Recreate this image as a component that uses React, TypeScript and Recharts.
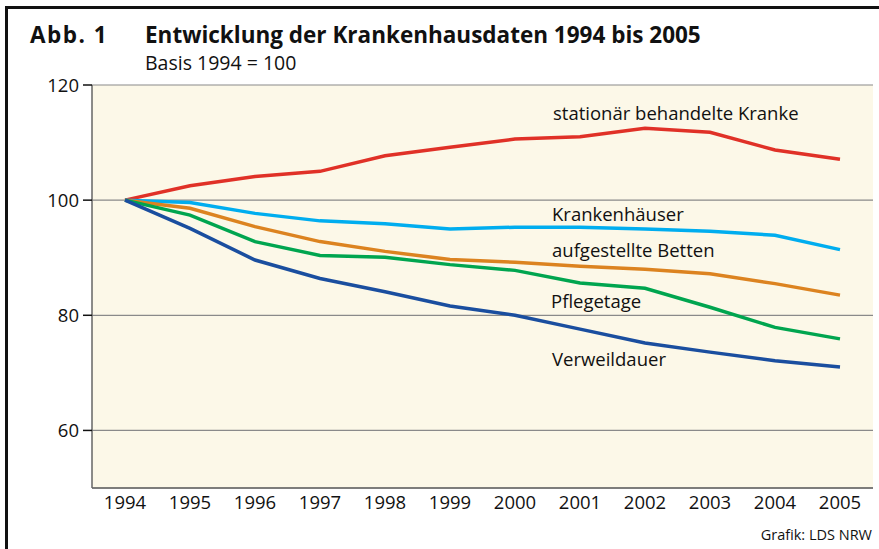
import { LineChart, Line, XAxis, YAxis, CartesianGrid } from 'recharts'

const years = ['1994', '1995', '1996', '1997', '1998', '1999', '2000', '2001', '2002', '2003', '2004', '2005']
const stationaer = [100, 102.5, 104.1, 105.0, 107.7, 109.2, 110.6, 111.0, 112.5, 111.8, 108.7, 107.1]
const krankenhaeuser = [100, 99.6, 97.7, 96.4, 95.9, 95.0, 95.3, 95.3, 95.0, 94.6, 93.9, 91.4]
const betten = [100, 98.6, 95.4, 92.8, 91.1, 89.7, 89.2, 88.5, 88.0, 87.2, 85.5, 83.5]
const pflegetage = [100, 97.4, 92.8, 90.4, 90.1, 88.8, 87.8, 85.6, 84.7, 81.4, 77.9, 75.9]
const verweildauer = [100, 95.1, 89.6, 86.4, 84.1, 81.6, 80.0, 77.6, 75.2, 73.6, 72.1, 71.0]
const yTicks = [60, 80, 100, 120]

const seriesLabels = [
  { text: 'stationär behandelte Kranke', x: 553, y: 113 },
  { text: 'Krankenhäuser', x: 552, y: 214 },
  { text: 'aufgestellte Betten', x: 552, y: 250 },
  { text: 'Pflegetage', x: 551, y: 301 },
  { text: 'Verweildauer', x: 552, y: 359 },
]

const data = years.map((year, i) => ({
  year,
  stationaer: stationaer[i],
  krankenhaeuser: krankenhaeuser[i],
  betten: betten[i],
  pflegetage: pflegetage[i],
  verweildauer: verweildauer[i],
}))

const FONT = '"Open Sans", "Noto Sans", sans-serif'

export default function App() {
  return (
    <div style={{ position: 'fixed', left: 0, top: 0, width: 879, height: 549, background: '#fff', fontFamily: FONT, color: '#111', overflow: 'hidden' }}>
      {/* frame */}
      <div style={{ position: 'absolute', left: 5, top: 6, width: 900, height: 600, borderLeft: '3px solid #111', borderTop: '3px solid #111' }} />
      <div style={{ position: 'absolute', left: 30, top: 23, fontSize: 22.5, fontWeight: 700, lineHeight: '24px', letterSpacing: 1.5 }}>Abb. 1</div>
      <div style={{ position: 'absolute', left: 145, top: 23, fontSize: 22.5, fontWeight: 700, lineHeight: '24px' }}>Entwicklung der Krankenhausdaten 1994 bis 2005</div>
      <div style={{ position: 'absolute', left: 145, top: 52, fontSize: 19.5, lineHeight: '21px' }}>Basis 1994 = 100</div>

      <LineChart width={879} height={549} data={data} margin={{ top: 85, right: 6, left: 32, bottom: 30 }} style={{ position: 'absolute', left: 0, top: 0 }}>
        <CartesianGrid vertical={false} fill="#fcf8e8" stroke="#8a8a8a" strokeWidth={1.2} />
        <XAxis
          dataKey="year"
          height={31}
          padding={{ left: 33, right: 33 }}
          tickLine={false}
          tickSize={0}
          tickMargin={8}
          axisLine={{ stroke: '#666', strokeWidth: 1.5 }}
          tick={{ fill: '#111', fontSize: 18.5, fontFamily: FONT }}
        />
        <YAxis
          width={60}
          domain={[50, 120]}
          ticks={yTicks}
          tickSize={9}
          tickMargin={4}
          tickLine={{ stroke: '#111', strokeWidth: 1.5 }}
          axisLine={{ stroke: '#666', strokeWidth: 1.5 }}
          tick={{ fill: '#111', fontSize: 18.5, fontFamily: FONT }}
        />
        <Line dataKey="stationaer" stroke="#e03127" strokeWidth={3.5} dot={false} isAnimationActive={false} />
        <Line dataKey="krankenhaeuser" stroke="#00adef" strokeWidth={3.5} dot={false} isAnimationActive={false} />
        <Line dataKey="betten" stroke="#dc8320" strokeWidth={3.5} dot={false} isAnimationActive={false} />
        <Line dataKey="pflegetage" stroke="#00a54f" strokeWidth={3.5} dot={false} isAnimationActive={false} />
        <Line dataKey="verweildauer" stroke="#1a4e9f" strokeWidth={3.5} dot={false} isAnimationActive={false} />
      </LineChart>

      {seriesLabels.map((l) => (
        <div key={l.text} style={{ position: 'absolute', left: l.x, top: l.y - 13, fontSize: 18.5, lineHeight: '26px', whiteSpace: 'nowrap' }}>
          {l.text}
        </div>
      ))}
      <div style={{ position: 'absolute', right: 7, top: 525, fontSize: 14.5 }}>Grafik: LDS NRW</div>
    </div>
  )
}
